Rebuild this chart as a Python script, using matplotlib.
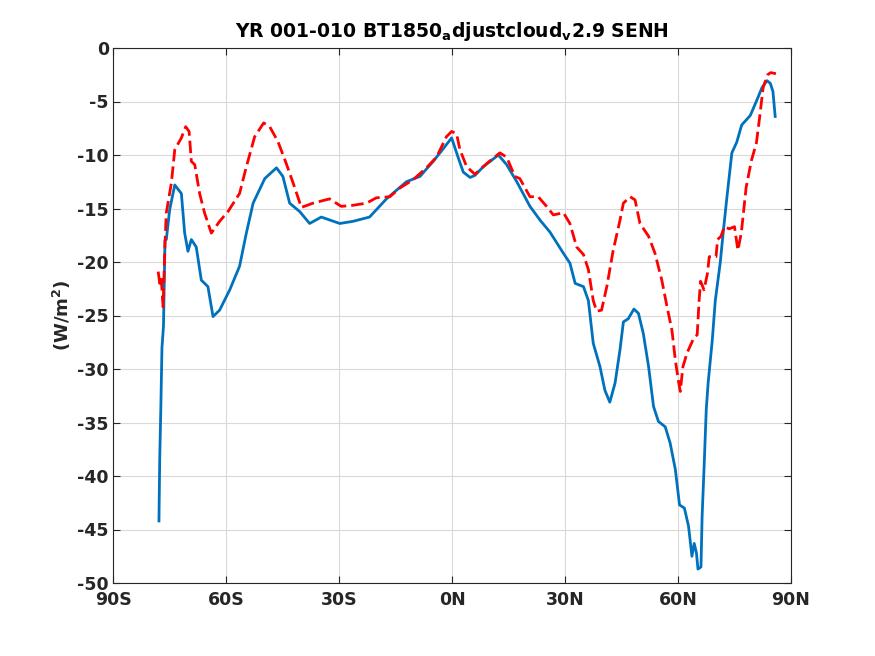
import numpy as np
import matplotlib
matplotlib.use('Agg')
import matplotlib.pyplot as plt

# zonal mean values (lat in degrees, W/m^2)
lat_blue = [-77.8, -77.6, -77.3, -77.0, -76.6, -76.2, -75.85, -74.95, -73.6, -71.85,
            -70.97, -70.1, -69.2, -67.9, -66.55, -64.8, -63.45, -61.7, -59.0, -56.4,
            -54.6, -52.8, -49.7, -46.6, -44.9, -43.1, -40.4, -37.8, -34.7, -29.8,
            -26.3, -21.9, -17.4, -12.1, -8.5, -5.0, -2.3, -0.1, 1.7, 3.0,
            4.8, 6.1, 8.3, 12.3, 14.5, 17.2, 20.7, 23.4, 26.0, 29.6,
            31.3, 32.7, 34.9, 36.2, 37.5, 39.3, 40.6, 41.9, 43.3, 44.6,
            45.5, 46.8, 48.3, 49.5, 50.8, 52.2, 53.5, 54.8, 56.6, 57.9,
            59.3, 60.4, 61.7, 62.8, 63.7, 64.3, 64.9, 65.3, 66.1, 66.4,
            67.0, 67.5, 68.0, 69.1, 69.9, 71.2, 72.1, 73.0, 74.3, 75.6,
            76.9, 79.2, 80.9, 82.3, 83.6, 84.5, 85.2, 85.8]
val_blue = [-44.2, -38.5, -33.6, -28.0, -26.0, -18.0, -17.9, -15.1, -12.8, -13.6,
            -17.3, -19.0, -17.9, -18.6, -21.7, -22.3, -25.1, -24.5, -22.6, -20.4,
            -17.3, -14.5, -12.2, -11.2, -12.0, -14.5, -15.3, -16.4, -15.8, -16.4,
            -16.2, -15.8, -14.1, -12.5, -12.0, -10.6, -9.4, -8.4, -10.3, -11.6,
            -12.1, -11.9, -11.1, -10.0, -10.9, -12.5, -14.8, -16.1, -17.2, -19.2,
            -20.1, -22.0, -22.3, -23.6, -27.6, -29.8, -32.0, -33.1, -31.3, -28.2,
            -25.6, -25.3, -24.4, -24.8, -26.7, -29.8, -33.5, -34.9, -35.4, -36.9,
            -39.4, -42.7, -43.0, -44.7, -47.5, -46.3, -47.2, -48.7, -48.5, -43.8,
            -38.5, -33.8, -31.3, -27.3, -23.6, -20.1, -16.9, -13.9, -9.8, -8.8,
            -7.2, -6.3, -4.9, -3.7, -3.05, -3.3, -4.05, -6.4]

lat_red = [-78.0, -77.6, -77.2, -76.7, -76.2, -75.85, -74.5, -73.6, -71.85, -70.7,
           -69.8, -69.2, -68.3, -67.0, -65.7, -63.9, -61.7, -59.5, -56.4, -54.6,
           -52.4, -50.0, -48.4, -46.2, -44.0, -41.8, -40.0, -36.9, -32.5, -29.4,
           -26.3, -22.7, -20.1, -16.5, -13.9, -10.3, -6.8, -4.1, -1.5, -0.1,
           1.2, 2.1, 3.9, 6.1, 9.2, 12.7, 14.5, 16.7, 18.0, 20.7,
           22.9, 25.1, 26.9, 29.6, 31.3, 33.1, 34.9, 36.2, 37.5, 38.4,
           39.7, 41.1, 42.8, 44.6, 45.5, 47.3, 48.6, 49.9, 52.2, 53.9,
           55.7, 57.1, 58.4, 59.3, 60.2, 60.6, 61.3, 62.4, 64.2, 65.1,
           65.6, 66.0, 66.9, 67.8, 68.3, 70.1, 70.5, 71.4, 72.3, 73.6,
           75.0, 75.9, 76.8, 78.1, 79.5, 80.8, 81.7, 82.6, 83.8, 84.6, 86.0]
val_red = [-20.9, -22.0, -21.5, -24.2, -18.3, -15.4, -12.6, -9.5, -8.4, -7.35,
           -7.8, -10.6, -10.9, -13.6, -15.4, -17.3, -16.2, -15.3, -13.6, -11.1,
           -8.3, -7.0, -7.35, -8.75, -10.8, -13.0, -14.9, -14.5, -14.1, -14.8,
           -14.7, -14.5, -14.0, -13.9, -13.1, -12.3, -11.2, -10.2, -8.3, -7.8,
           -8.0, -9.5, -11.1, -11.8, -10.8, -9.8, -10.2, -12.0, -12.2, -13.9,
           -13.9, -14.8, -15.6, -15.4, -16.4, -18.6, -19.3, -20.7, -23.6, -24.6,
           -24.5, -22.3, -18.9, -16.1, -14.5, -13.9, -14.2, -16.4, -17.6, -19.2,
           -21.7, -24.2, -26.4, -29.2, -31.3, -32.1, -29.8, -28.5, -27.1, -26.8,
           -23.6, -21.8, -22.6, -21.1, -19.5, -19.5, -17.9, -17.6, -16.7, -16.9,
           -16.7, -18.9, -17.3, -13.0, -10.5, -8.9, -6.4, -3.7, -2.5, -2.3, -2.4]

xticks = [-90, -60, -30, 0, 30, 60, 90]
xticklabels = ['90S', '60S', '30S', '0N', '30N', '60N', '90N']
yticks = [-50, -45, -40, -35, -30, -25, -20, -15, -10, -5, 0]

plt.rcParams['font.family'] = ['DejaVu Sans']
plt.rcParams['font.weight'] = 'bold'
plt.rcParams['mathtext.fontset'] = 'dejavusans'
plt.rcParams['mathtext.default'] = 'bf'
plt.rcParams['axes.unicode_minus'] = False

fig = plt.figure(figsize=(8.75, 6.56), dpi=100)
ax = fig.add_axes([113 / 875, 73 / 656, 678 / 875, 535 / 656])

ax.plot(lat_blue, val_blue, color=(0, 0.447, 0.741), lw=2.0)
ax.plot(lat_red, val_red, color='red', lw=2.0, ls=(0, (4.5, 1.8)))

ax.set_xlim(-90, 90)
ax.set_ylim(-50, 0)
ax.set_xticks(xticks)
ax.set_xticklabels(xticklabels)
ax.set_yticks(yticks)
ax.grid(True, color='#d9d9d9', lw=0.8)
ax.tick_params(direction='in', top=True, right=True, labelsize=12.5,
               colors='#262626', length=5, width=0.8)
ax.tick_params(axis='x', pad=6)
ax.tick_params(axis='y', pad=3)
for lab in ax.get_xticklabels() + ax.get_yticklabels():
    lab.set_fontweight('bold')
for s in ax.spines.values():
    s.set_color('#262626')
    s.set_linewidth(0.8)

ax.set_ylabel('(W/m$^{2}$)', fontsize=13, fontweight='bold', color='#262626', labelpad=3)
ax.set_title('YR 001-010 BT1850$_a$djustcloud$_v$2.9 SENH', fontsize=13.5,
             fontweight='bold', pad=8)

fig.savefig('out.png', dpi=100)
